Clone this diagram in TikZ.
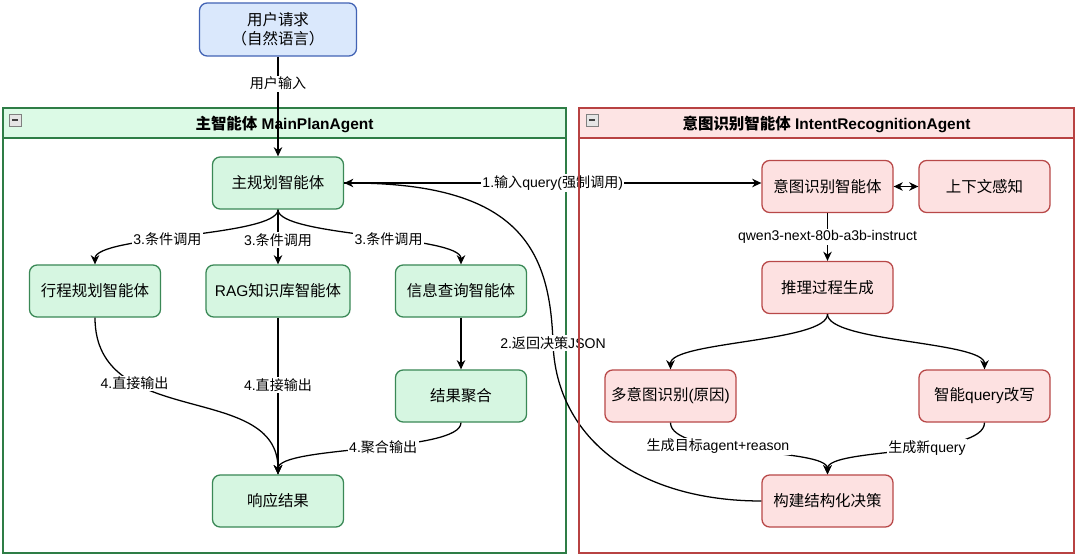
\documentclass[tikz,border=0pt]{standalone}
\usepackage{fontspec}
\setmainfont{Liberation Sans}
\newfontfamily\hanfont{Noto Sans CJK SC}
\usetikzlibrary{arrows.meta}
% Han characters and full-width signs are set in the CJK family
\XeTeXinterchartokenstate=1
\newcount\hanidx
\newcommand\sethanrange[2]{\hanidx=#1\relax
  \loop\XeTeXcharclass\hanidx=7\relax\advance\hanidx by 1\relax
  \ifnum\hanidx<#2\relax\repeat}
\sethanrange{"3000}{"3040}
\sethanrange{"4E00}{"A000}
\sethanrange{"FF00}{"FFF0}
\XeTeXinterchartoks 0 7 = {\hanfont}
\XeTeXinterchartoks 4095 7 = {\hanfont}
\XeTeXinterchartoks 7 0 = {\rmfamily}
\XeTeXinterchartoks 7 4095 = {\rmfamily}
\definecolor{ubluefill}{RGB}{218,232,252}
\definecolor{ublueline}{RGB}{66,99,180}
\definecolor{mgfill}{RGB}{214,246,225}
\definecolor{mgline}{RGB}{58,136,86}
\definecolor{mghead}{RGB}{220,250,230}
\definecolor{mgframe}{RGB}{46,125,70}
\definecolor{irfill}{RGB}{253,225,225}
\definecolor{irline}{RGB}{184,72,72}
\definecolor{irhead}{RGB}{253,228,228}
\definecolor{irframe}{RGB}{184,66,66}
\begin{document}
\begin{tikzpicture}[x=0.025cm, y=-0.025cm,
  agent/.style={draw, rounded corners=5.5pt, line width=0.9pt,
    minimum width=3.275cm, minimum height=1.3cm, align=center,
    font=\fontsize{11}{13.3}\selectfont},
  mainagent/.style={agent, fill=mgfill, draw=mgline},
  intentagent/.style={agent, fill=irfill, draw=irline},
  ttl/.style={font=\bfseries\fontsize{11}{13}\selectfont},
  lbl/.style={fill=white, inner sep=1pt, font=\fontsize{10}{12}\selectfont},
  arr/.style={-{Stealth[length=6.5pt, width=6pt, inset=2pt]}, line width=0.9pt}]
\useasboundingbox (0,0) rectangle (1080,558);
% Left container: MainPlanAgent
\draw[mgframe, line width=1pt, fill=white] (3,108) rectangle (566,553);
\draw[mgframe, line width=1pt, fill=mghead] (3,108) rectangle (566,138);
\draw[gray, fill=gray!20] (9,114) rectangle (21,126);
\draw[black!75, line width=1.4pt] (12,120) -- (18,120);
\node[ttl] (maintitle) at (284.5,124) {主智能体 MainPlanAgent};
% Top: user request
\node[agent, fill=ubluefill, draw=ublueline, minimum width=3.925cm, minimum height=1.325cm] (user) at (278,29.5) {用户请求\\（自然语言）};
% Main planner and its sub agents
\node[mainagent] (main) at (278,183) {主规划智能体};
\node[mainagent] (trip) at (95,291) {行程规划智能体};
\node[mainagent, minimum width=3.6cm] (rag) at (278,291) {RAG知识库智能体};
\node[mainagent] (info) at (461,291) {信息查询智能体};
\node[mainagent] (agg) at (461,396) {结果聚合};
\node[mainagent] (resp) at (278,501) {响应结果};
% Right side: intent recognition
\node[intentagent] (intent) at (827.5,186.5) {意图识别智能体};
\node[intentagent] (ctx) at (984.5,186.5) {上下文感知};
\node[intentagent] (reason) at (827.5,287.5) {推理过程生成};
\node[intentagent] (multi) at (670.5,396) {多意图识别(原因)};
\node[intentagent] (rewrite) at (984.5,396) {智能query改写};
\node[intentagent] (build) at (827.5,501) {构建结构化决策};
% Edges
\draw[arr] (user.south) -- (main.north) node[lbl, pos=0.27] {用户输入};
\draw[arr] (main.south) -- (rag.north) node[lbl, pos=0.55] {3.条件调用};
\draw[arr] (main.south) .. controls +(0,27) and +(0,-29) .. (trip.north) node[lbl, pos=0.57] {3.条件调用};
\draw[arr] (main.south) .. controls +(0,27) and +(0,-29) .. (info.north) node[lbl, pos=0.57] {3.条件调用};
\draw[arr] (trip.south) .. controls +(0,113) and +(0,-94) .. (resp.north) node[lbl, pos=0.3] {4.直接输出};
\draw[arr] (rag.south) -- (resp.north) node[lbl, pos=0.43] {4.直接输出};
\draw[arr] (info.south) -- (agg.north);
\draw[arr] (agg.south) .. controls +(0,30) and +(0,-29) .. (resp.north) node[lbl, pos=0.45] {4.聚合输出};
\draw[arr] (main.east) -- (main.east -| intent.west) node[lbl, midway] {1.输入query(强制调用)};
\draw[{Stealth[length=6.5pt, width=6pt, inset=2pt]}-{Stealth[length=6.5pt, width=6pt, inset=2pt]}, line width=0.9pt] (intent.east) -- (ctx.west);
\draw[arr] (intent.south) -- (reason.north) node[lbl, midway] {qwen3-next-80b-a3b-instruct};
\draw[arr] (reason.south) .. controls +(0,28) and +(0,-28) .. (multi.north);
\draw[arr] (reason.south) .. controls +(0,28) and +(0,-28) .. (rewrite.north);
\draw[arr] (multi.south) .. controls +(0,34) and +(0,-27) .. (build.north) node[lbl, pos=0.365] {生成目标agent+reason};
\draw[arr] (rewrite.south) .. controls +(0,34) and +(0,-27) .. (build.north) node[lbl, pos=0.41] {生成新query};
% Return path: decision JSON back to the planner
\coordinate (jsonbend) at (553,343);
\draw[arr] (build.west) .. controls (640,501) and (556,440) .. (jsonbend) .. controls (550,250) and (520,183) .. (main.east);
\node[lbl] (jsonlbl) at (jsonbend) {2.返回决策JSON};
% Right container: IntentRecognitionAgent
\draw[irframe, line width=1pt] (579,108) rectangle (1074,553);
\draw[irframe, line width=1pt, fill=irhead] (579,108) rectangle (1074,138);
\draw[gray, fill=gray!20] (586,114) rectangle (598,126);
\draw[black!75, line width=1.4pt] (589,120) -- (595,120);
\node[ttl] (intenttitle) at (826.5,124) {意图识别智能体 IntentRecognitionAgent};
\end{tikzpicture}
\end{document}
